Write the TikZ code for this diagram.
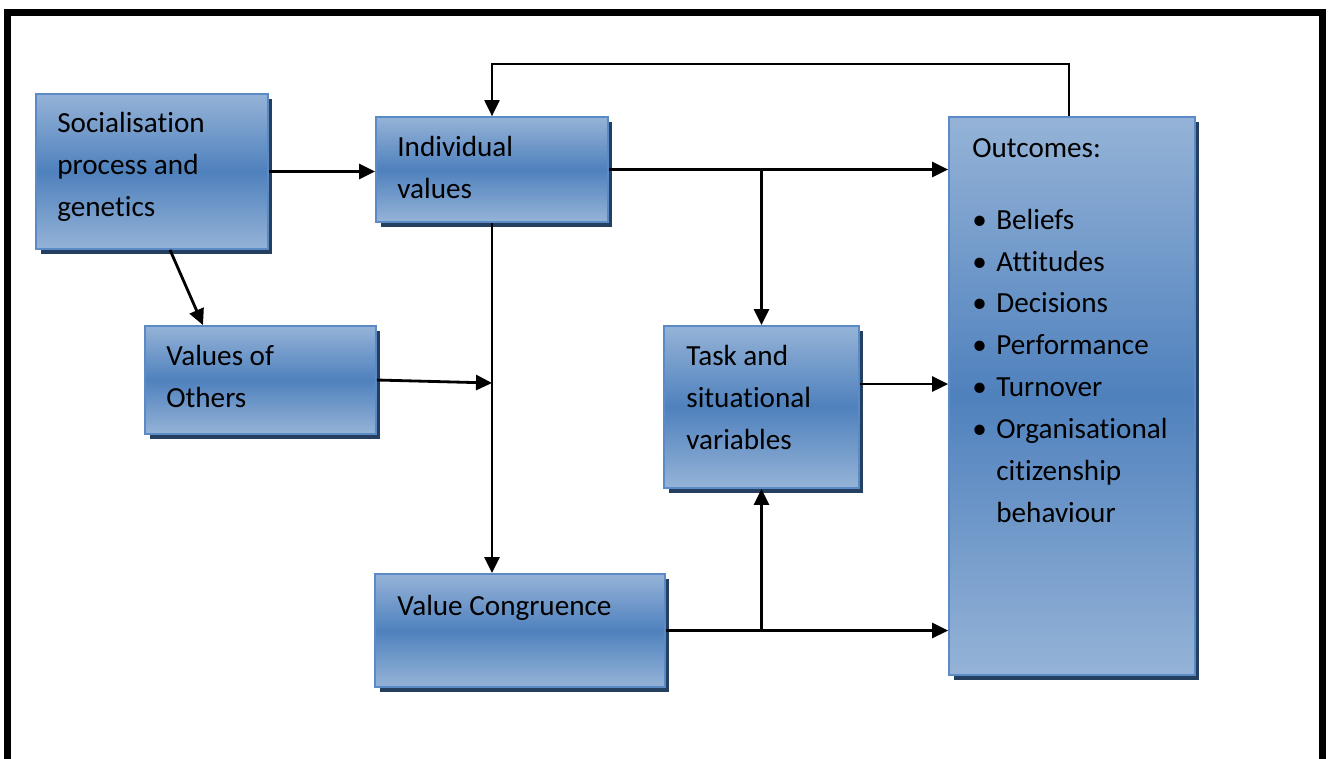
\documentclass[tikz,border=0pt]{standalone}
\usepackage{fontspec}
\setmainfont{Carlito}[Ligatures=NoCommon]
\usepackage{xcolor}
\usepackage{tikz}
\usetikzlibrary{arrows.meta, positioning, shadows}
\definecolor{boxlight}{RGB}{149, 179, 215}
\definecolor{boxmid}{RGB}{79, 129, 189}
\definecolor{boxedge}{RGB}{91, 139, 199}
\definecolor{boxshadow}{RGB}{36, 63, 96}
\newcommand{\boxfont}{\fontsize{16.6}{23.8}\selectfont}
\newcommand{\outitem}[1]{\makebox[0.48cm][l]{\textbullet}#1}

\begin{document}
\begin{tikzpicture}[x=0.02cm, y=-0.02cm, >={Triangle[length=0.32cm,width=0.3cm]},
  valuebox/.style={rectangle, draw=boxedge, line width=1pt, inner sep=0pt,
    top color=boxlight, bottom color=boxlight, middle color=boxmid,
    drop shadow={shadow xshift=0.09cm, shadow yshift=-0.1cm, fill=boxshadow, opacity=1}},
  boxtext/.style={anchor=base west, inner sep=0pt, align=left, font=\boxfont},
  link/.style={->, line width=1.6pt}]

\useasboundingbox (0,0) rectangle (1329,758);

% Frame
\draw[line width=0.14cm] (7.5,12.5) rectangle (1322.5,820);

% Boxes
\node[valuebox, minimum width=4.64cm, minimum height=3.1cm] at (152,171.5) (soc) {};
\node[valuebox, minimum width=4.64cm, minimum height=2.1cm] at (492,169.5) (ind) {};
\node[valuebox, minimum width=4.62cm, minimum height=2.16cm] at (260.5,380) (oth) {};
\node[valuebox, minimum width=3.9cm, minimum height=3.24cm] at (761.5,407) (task) {};
\node[valuebox, minimum width=5.8cm, minimum height=2.26cm] at (520,630.5) (cong) {};
\node[valuebox, minimum width=4.92cm, minimum height=11.16cm] at (1072,396) (out) {};

% Box texts (placed at the baseline of the last line)
\node[boxtext] at (57,216) (soc_txt) {Socialisation\\process and\\genetics};
\node[boxtext] at (397,198) (ind_txt) {Individual\\values};
\node[boxtext] at (166,407) (oth_txt) {Values of\\Others};
\node[boxtext] at (686,449) (task_txt) {Task and\\situational\\variables};
\node[boxtext] at (397,615) (cong_txt) {Value Congruence};
\node[boxtext] at (972,157) (out_txt) {Outcomes:};
\node[boxtext] at (972,522) (out_list) {\outitem{Beliefs}\\\outitem{Attitudes}\\\outitem{Decisions}\\
  \outitem{Performance}\\\outitem{Turnover}\\\outitem{Organisational}\\\hspace*{0.48cm}citizenship\\
  \hspace*{0.48cm}behaviour};

% Connections
\draw[link] (soc.east) -- (soc.east -| ind.west);
\draw[link] ([xshift=0.36cm]soc.south) -- ([xshift=-1.15cm]oth.north);
\draw[link] (ind.east) -- (ind.east -| out.west);
\coordinate (split_top) at (ind.east -| task.north);
\draw[link] (split_top) -- (task.north);
\draw[link] (ind.south) -- (ind.south |- cong.north);
\draw[link] (oth.east) -- ([yshift=-0.06cm]oth.east -| ind.south);
\draw[link] ([yshift=0.46cm]task.east) -- ([yshift=0.46cm]task.east -| out.west);
\draw[link] (cong.east) -- (cong.east -| out.west);
\coordinate (split_bot) at (task.south |- cong.east);
\draw[link] (split_bot) -- (task.south);

% Feedback
\draw[link, line width=1.2pt] ([xshift=-0.06cm]out.north) -- ++(0,-52) -| (ind.north);

\end{tikzpicture}
\end{document}
